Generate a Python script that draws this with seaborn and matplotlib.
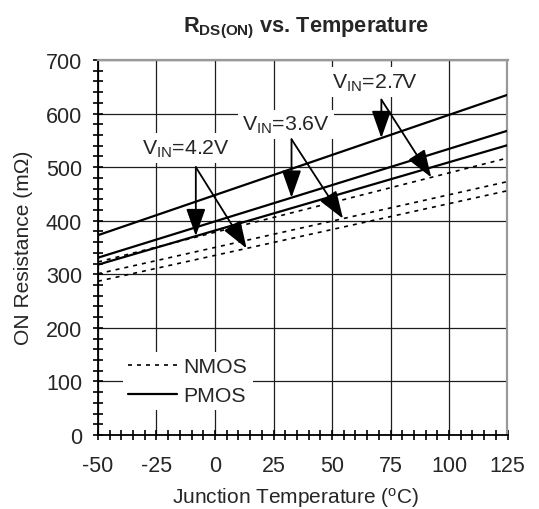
import numpy as np
import pandas as pd
import matplotlib
matplotlib.use("Agg")
import matplotlib.pyplot as plt
from matplotlib.lines import Line2D
from matplotlib.ticker import MultipleLocator
import seaborn as sns

# Junction temperature end points (degC) and measured on-resistance (mOhm)
temps = [-50, 125]
vin_labels = ["2.7V", "3.6V", "4.2V"]
pmos_27 = [373, 635]
pmos_36 = [331, 568]
pmos_42 = [318, 541]
nmos_27 = [323, 517]
nmos_36 = [301, 473]
nmos_42 = [287, 456]

x_ticks = [-50, -25, 0, 25, 50, 75, 100, 125]
y_ticks = [0, 100, 200, 300, 400, 500, 600, 700]

sns.set_style("ticks")
plt.rcParams["font.family"] = ["Liberation Sans", "DejaVu Sans"]
plt.rcParams["mathtext.fontset"] = "custom"
plt.rcParams["mathtext.rm"] = "Liberation Sans"
plt.rcParams["mathtext.it"] = "Liberation Sans:italic"
plt.rcParams["mathtext.bf"] = "Liberation Sans:bold"
plt.rcParams["axes.unicode_minus"] = False

rows = []
for dev, series in (("PMOS", (pmos_27, pmos_36, pmos_42)),
                    ("NMOS", (nmos_27, nmos_36, nmos_42))):
    for vin, vals in zip(vin_labels, series):
        for t, r in zip(temps, vals):
            rows.append({"temp": t, "rds": r, "device": dev, "vin": vin})
df = pd.DataFrame(rows)

fig = plt.figure(figsize=(5.39, 5.10), dpi=100)
ax = fig.add_axes([98 / 539, 1 - 436 / 510, 409.5 / 539, 375 / 510])

for (dev, vin), sub in df.groupby(["device", "vin"]):
    if dev == "PMOS":
        sns.lineplot(data=sub, x="temp", y="rds", ax=ax, color="black",
                     lw=1.6, zorder=3, legend=False)
    else:
        sns.lineplot(data=sub, x="temp", y="rds", ax=ax, color="black",
                     lw=1.2, linestyle=(0, (2.4, 3.0)), zorder=3, legend=False)

ax.set_xlim(-50, 125)
ax.set_ylim(0, 700)
ax.set_xticks(x_ticks)
ax.set_yticks(y_ticks)
ax.xaxis.set_minor_locator(MultipleLocator(5))
ax.yaxis.set_minor_locator(MultipleLocator(20))
ax.tick_params(which="both", direction="inout", length=7, width=1.2,
               color="black", labelsize=15.5)
ax.tick_params(axis="x", which="major", pad=11)
ax.tick_params(axis="y", which="major", pad=8)

ax.grid(True, which="major", color="#1e1e1e", lw=0.9)
ax.set_axisbelow(True)

for side in ("left", "bottom"):
    ax.spines[side].set_color("black")
    ax.spines[side].set_linewidth(1.3)
for side in ("top", "right"):
    ax.spines[side].set_color("#999999")
    ax.spines[side].set_linewidth(1.6)

ax.set_xlabel("")
ax.set_ylabel("")
fig.text(296 / 539, 1 - 504 / 510, "Junction Temperature ($^{\\mathrm{o}}$C)",
         ha="center", va="baseline", fontsize=15)
fig.text(24 / 539, 1 - 248 / 510, "ON Resistance (m\u03a9)",
         ha="center", va="center", rotation=90, fontsize=15.1)

fig.text(306 / 539, 1 - 32 / 510, "R$_{\\mathbf{DS(ON)}}$ vs. Temperature",
         ha="center", va="baseline", fontsize=15.7, fontweight="bold")

# Supply-voltage callouts: one arrow to the PMOS curve, one to the NMOS curve
callouts = [
    ("2.7V", (68.2, 648.5), (71.1, 626), pmos_27, 71.1, nmos_27, 92.4),
    ("3.6V", (30.2, 569.6), (32.7, 552), pmos_36, 32.7, nmos_36, 54.7),
    ("4.2V", (-12.4, 526.0), (-8.2, 500), pmos_42, -8.2, nmos_42, 13.5),
]
arrow = dict(arrowstyle="-|>,head_length=1.7,head_width=0.6",
             mutation_scale=10, color="black", lw=1.3,
             shrinkA=0, shrinkB=0)
for vin, text_xy, origin, p_vals, p_t, n_vals, n_t in callouts:
    ax.text(text_xy[0], text_xy[1], "V$_{\\mathrm{IN}}$=" + vin,
            ha="center", va="baseline", fontsize=15.3, zorder=4,
            bbox=dict(boxstyle="square,pad=0.2", fc="white", ec="none"))
    for t, vals in ((p_t, p_vals), (n_t, n_vals)):
        ax.annotate("", xy=(t, np.interp(t, temps, vals)), xytext=origin,
                    arrowprops=arrow, zorder=5)

handles = [Line2D([], [], color="black", lw=1.2, linestyle=(0, (2.4, 3.0))),
           Line2D([], [], color="black", lw=1.6)]
leg = ax.legend(handles, ["NMOS", "PMOS"], loc="upper left",
                bbox_to_anchor=(0.061, 0.221), fontsize=15.3, frameon=True,
                fancybox=False, framealpha=1, edgecolor="none",
                borderpad=0.25, handlelength=2.3, handletextpad=0.3,
                labelspacing=0.45, borderaxespad=0)
leg.get_frame().set_facecolor("white")

fig.savefig("out.png", dpi=100)
